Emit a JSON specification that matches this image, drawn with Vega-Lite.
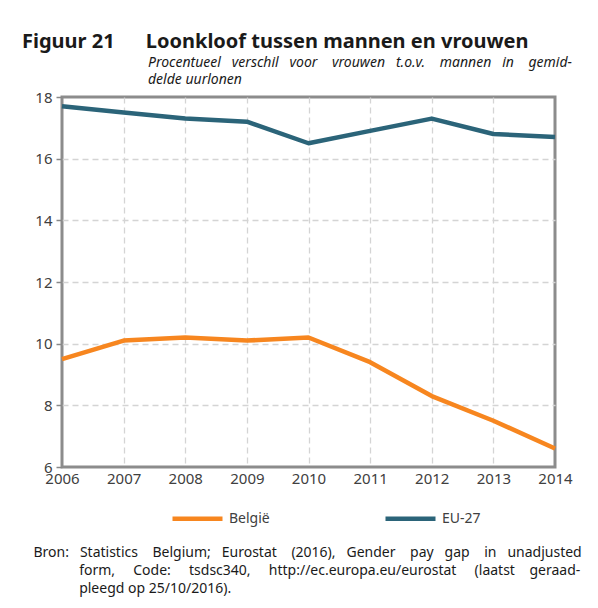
{
  "$schema": "https://vega.github.io/schema/vega-lite/v6.json",
  "autosize": {"type": "none"},
  "width": 493,
  "height": 370,
  "padding": {"left": 62, "top": 97, "right": 43, "bottom": 141},
  "background": "white",
  "title": {
    "text": "Figuur 21\u00a0\u00a0\u00a0\u00a0\u00a0\u00a0Loonkloof tussen mannen en vrouwen",
    "subtitle": [
      "\u200b\u2003\u2003\u2003\u2003\u2003\u2003\u2003\u2003\u2003Procentueel \u00a0\u00a0verschil \u00a0\u00a0voor \u00a0\u00a0\u00a0vrouwen \u00a0\u00a0t.o.v. \u00a0\u00a0\u00a0mannen \u00a0\u00a0in \u00a0\u00a0\u00a0gemid-",
      "\u200b\u2003\u2003\u2003\u2003\u2003\u2003\u2003\u2003\u2003delde uurlonen"
    ],
    "anchor": "start",
    "frame": "group",
    "dx": -40,
    "offset": 3,
    "font": "Noto Sans",
    "fontSize": 20,
    "fontWeight": "bold",
    "color": "#1a1a1a",
    "subtitleFont": "Noto Sans",
    "subtitleFontSize": 14,
    "subtitleFontStyle": "italic",
    "subtitleColor": "#1a1a1a",
    "subtitleLineHeight": 17,
    "subtitlePadding": 4
  },
  "data": {
    "values": [
      {"jaar": 2006, "reeks": "België", "waarde": 9.5},
      {"jaar": 2007, "reeks": "België", "waarde": 10.1},
      {"jaar": 2008, "reeks": "België", "waarde": 10.2},
      {"jaar": 2009, "reeks": "België", "waarde": 10.1},
      {"jaar": 2010, "reeks": "België", "waarde": 10.2},
      {"jaar": 2011, "reeks": "België", "waarde": 9.4},
      {"jaar": 2012, "reeks": "België", "waarde": 8.3},
      {"jaar": 2013, "reeks": "België", "waarde": 7.5},
      {"jaar": 2014, "reeks": "België", "waarde": 6.6},
      {"jaar": 2006, "reeks": "EU-27", "waarde": 17.7},
      {"jaar": 2007, "reeks": "EU-27", "waarde": 17.5},
      {"jaar": 2008, "reeks": "EU-27", "waarde": 17.3},
      {"jaar": 2009, "reeks": "EU-27", "waarde": 17.2},
      {"jaar": 2010, "reeks": "EU-27", "waarde": 16.5},
      {"jaar": 2011, "reeks": "EU-27", "waarde": 16.9},
      {"jaar": 2012, "reeks": "EU-27", "waarde": 17.3},
      {"jaar": 2013, "reeks": "EU-27", "waarde": 16.8},
      {"jaar": 2014, "reeks": "EU-27", "waarde": 16.7}
    ]
  },
  "mark": {"type": "line", "strokeWidth": 4.5, "strokeCap": "butt", "strokeJoin": "round"},
  "encoding": {
    "x": {
      "field": "jaar",
      "type": "quantitative",
      "scale": {"domain": [2006, 2014], "nice": false, "zero": false},
      "axis": {
        "values": [2006, 2007, 2008, 2009, 2010, 2011, 2012, 2013, 2014],
        "format": "d",
        "ticks": false,
        "domain": false,
        "labelPadding": 4,
        "labelFont": "Noto Sans",
        "labelFontSize": 15,
        "labelColor": "#404040",
        "labelFlush": false,
        "labelOverlap": false,
        "grid": true,
        "gridColor": "#d4d4d4",
        "gridDash": [6, 4],
        "gridWidth": 1.3,
        "gridOpacity": {"condition": {"test": "datum.value === 2006 || datum.value === 2014", "value": 0}, "value": 1},
        "title": [
          "Bron:\u00a0\u00a0\u00a0Statistics \u00a0\u00a0\u00a0Belgium; \u00a0\u00a0Eurostat \u00a0\u00a0\u00a0(2016), \u00a0\u00a0Gender \u00a0\u00a0\u00a0pay \u00a0\u00a0gap \u00a0\u00a0\u00a0in \u00a0\u00a0unadjusted",
          "\u200b\u2003\u2003\u2003\u00a0form, \u00a0\u00a0\u00a0\u00a0Code: \u00a0\u00a0\u00a0\u00a0tsdsc340, \u00a0\u00a0\u00a0\u00a0http://ec.europa.eu/eurostat \u00a0\u00a0\u00a0\u00a0(laatst \u00a0\u00a0\u00a0geraad-",
          "\u200b\u2003\u2003\u2003\u00a0pleegd op 25/10/2016)."
        ],
        "titleAnchor": "start",
        "titleAlign": "left",
        "titleBaseline": "alphabetic",
        "titleX": -29,
        "titleY": 89,
        "titleFont": "Noto Sans",
        "titleFontSize": 14,
        "titleFontWeight": "normal",
        "titleColor": "#1a1a1a",
        "titleLineHeight": 18
      }
    },
    "y": {
      "field": "waarde",
      "type": "quantitative",
      "scale": {"domain": [6, 18], "nice": false, "zero": false},
      "axis": {
        "values": [6, 8, 10, 12, 14, 16, 18],
        "title": null,
        "domain": false,
        "ticks": true,
        "tickColor": "#888888",
        "tickSize": 6,
        "tickWidth": 1.5,
        "labelPadding": 4,
        "labelFont": "Noto Sans",
        "labelFontSize": 15,
        "labelColor": "#404040",
        "labelFlush": false,
        "grid": true,
        "gridColor": "#d4d4d4",
        "gridDash": [6, 4],
        "gridWidth": 1.3,
        "gridOpacity": {"condition": {"test": "datum.value === 6 || datum.value === 18", "value": 0}, "value": 1}
      }
    },
    "color": {
      "field": "reeks",
      "type": "nominal",
      "scale": {"domain": ["België", "EU-27"], "range": ["#f7861f", "#2b6479"]},
      "legend": {
        "title": null,
        "orient": "none",
        "direction": "horizontal",
        "legendX": 108,
        "legendY": 394,
        "symbolType": "stroke",
        "symbolSize": 2500,
        "symbolStrokeWidth": 4.5,
        "labelFont": "Noto Sans",
        "labelFontSize": 14,
        "labelColor": "#404040",
        "labelOffset": 4,
        "columnPadding": 106
      }
    }
  },
  "config": {
    "view": {"stroke": "#8c8c8c", "strokeWidth": 3}
  }
}
